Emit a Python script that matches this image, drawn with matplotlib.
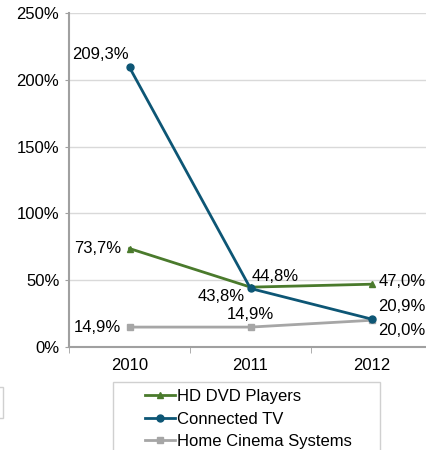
import matplotlib.pyplot as plt
from matplotlib.patches import Rectangle

plt.rcParams['font.family'] = ['Liberation Sans', 'DejaVu Sans']

years = ['2010', '2011', '2012']
hd_dvd = [73.7, 44.8, 47.0]
connected_tv = [209.3, 43.8, 20.9]
home_cinema = [14.9, 14.9, 20.0]

x = list(range(len(years)))

fig = plt.figure(figsize=(4.26, 4.5), dpi=100)
ax = fig.add_axes([69/426, 103/450, 363/426, 334/450])

ax.plot(x, hd_dvd, color='#4a7a2c', lw=2, marker='^', ms=5, label='HD DVD Players', zorder=3)
ax.plot(x, connected_tv, color='#0d5675', lw=2, marker='o', ms=5, label='Connected TV', zorder=4)
ax.plot(x, home_cinema, color='#a6a6a6', lw=2, marker='s', ms=5, label='Home Cinema Systems', zorder=2)

def fmt(v):
    return f'{v:.1f}%'.replace('.', ',')

fs = 12
# data labels
ax.annotate(fmt(connected_tv[0]), (x[0], connected_tv[0]), xytext=(-21, 9), textcoords='offset points', ha='center', va='center', fontsize=fs)
ax.annotate(fmt(hd_dvd[0]), (x[0], hd_dvd[0]), xytext=(-6, 0), textcoords='offset points', ha='right', va='center', fontsize=fs)
ax.annotate(fmt(home_cinema[0]), (x[0], home_cinema[0]), xytext=(-6, 0), textcoords='offset points', ha='right', va='center', fontsize=fs)
ax.annotate(fmt(connected_tv[1]), (x[1], connected_tv[1]), xytext=(-4, -6), textcoords='offset points', ha='right', va='center', fontsize=fs)
ax.annotate(fmt(hd_dvd[1]), (x[1], hd_dvd[1]), xytext=(1, 8), textcoords='offset points', ha='left', va='center', fontsize=fs)
ax.annotate(fmt(home_cinema[1]), (x[1], home_cinema[1]), xytext=(0, 9), textcoords='offset points', ha='center', va='center', fontsize=fs)
ax.annotate(fmt(hd_dvd[2]), (x[2], hd_dvd[2]), xytext=(5, 2), textcoords='offset points', ha='left', va='center', fontsize=fs)
ax.annotate(fmt(connected_tv[2]), (x[2], connected_tv[2]), xytext=(5, 9), textcoords='offset points', ha='left', va='center', fontsize=fs)
ax.annotate(fmt(home_cinema[2]), (x[2], home_cinema[2]), xytext=(5, -7), textcoords='offset points', ha='left', va='center', fontsize=fs)

ax.set_xlim(-0.5, 2.5)
ax.set_ylim(0, 250)
ax.set_yticks([0, 50, 100, 150, 200, 250])
ax.set_yticklabels([f'{v}%' for v in [0, 50, 100, 150, 200, 250]], fontsize=fs)
ax.set_xticks(x)
ax.set_xticklabels(years, fontsize=fs)
ax.set_xticks([-0.5, 0.5, 1.5, 2.5], minor=True)
ax.tick_params(axis='x', which='major', length=0, pad=8)
ax.tick_params(axis='x', which='minor', length=4, color='#a0a0a0', direction='out')
ax.tick_params(axis='y', length=3, color='#a0a0a0', pad=4)

ax.grid(axis='y', color='#d9d9d9', lw=1)
ax.set_axisbelow(True)
for s in ['top', 'right']:
    ax.spines[s].set_visible(False)
for s in ['left', 'bottom']:
    ax.spines[s].set_color('#a0a0a0')
    ax.spines[s].set_linewidth(1.5)

# legend entries without frame, box drawn separately (runs off the bottom)
fig.legend(loc='upper left', bbox_to_anchor=(145/426, 1 - 389/450), fontsize=fs,
           frameon=False, handlelength=1.8, handletextpad=0.1, borderaxespad=0,
           labelspacing=0.45, borderpad=0)
fig.patches.append(Rectangle((113/426, -0.05), (380 - 113)/426, 0.05 + 68/450,
                             transform=fig.transFigure, fill=False, edgecolor='#d0d0d0', lw=1))

# cut-off box at the lower left edge
fig.patches.append(Rectangle((-0.01, 1 - 418/450), 0.017, 31/450, transform=fig.transFigure,
                             fill=False, edgecolor='#d0d0d0', lw=1))

fig.savefig('out.png', dpi=100)
